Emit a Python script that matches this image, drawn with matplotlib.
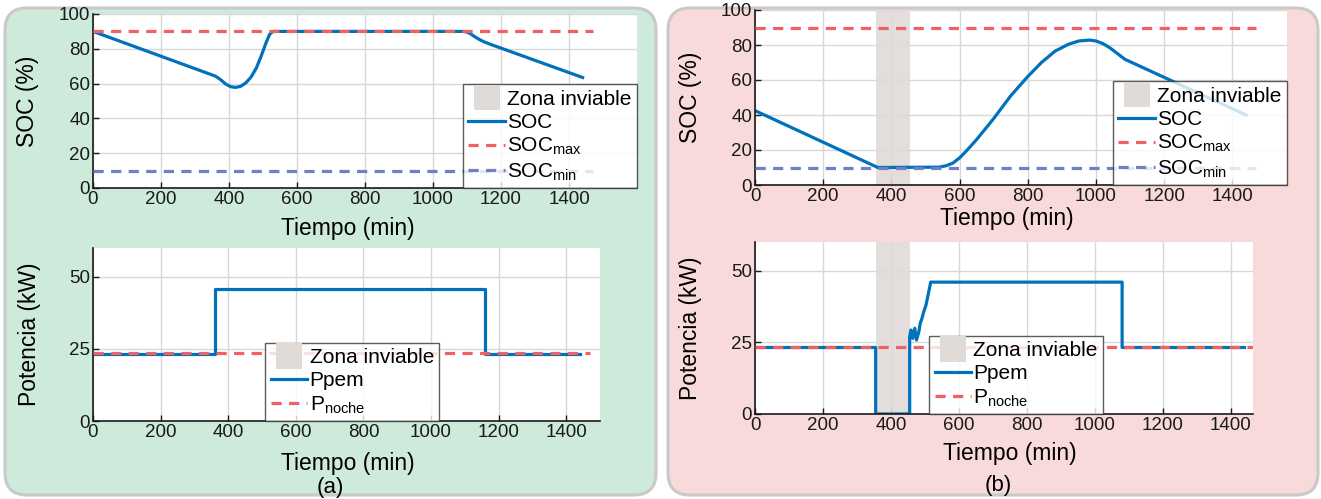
import matplotlib
matplotlib.use('Agg')
import matplotlib.pyplot as plt
from matplotlib.patches import FancyBboxPatch, Patch, Rectangle
from matplotlib.lines import Line2D
from matplotlib.legend_handler import HandlerPatch

plt.rcParams['font.family'] = ['Liberation Sans', 'DejaVu Sans']
plt.rcParams['mathtext.fontset'] = 'custom'
plt.rcParams['mathtext.rm'] = 'Liberation Sans'
plt.rcParams['mathtext.it'] = 'Liberation Sans'
plt.rcParams['mathtext.bf'] = 'Liberation Sans'

# ---------------- data ----------------
ref_t = [0, 1470]
soc_max = [90, 90]
soc_min = [10, 10]
p_noche = [23.5, 23.5]

t_soc_a = [0, 360, 375, 390, 405, 420, 435, 450, 465, 480, 495, 510, 520, 530,
           1090, 1100, 1110, 1120, 1135, 1150, 1170, 1440]
soc_a = [90, 64.3, 62.3, 59.8, 58.2, 57.8, 58.5, 60.5, 63.8, 68.8, 76, 84, 88.5, 90,
         90, 89.6, 88.7, 87.3, 85.5, 84, 82.5, 63.5]

t_p_a = [0, 360, 1160, 1440]
p_a = [23.2, 45.7, 23.2, 23.2]

t_soc_b = [0, 360, 540, 560, 580, 600, 620, 650, 700, 750, 800, 840, 880, 920, 950,
           980, 1000, 1020, 1040, 1060, 1085, 1440]
soc_b = [42.5, 10, 10.2, 11, 12.5, 15.5, 19.5, 26, 38, 51, 62, 70, 76.5, 80.5, 82.3,
         82.8, 82.3, 80.8, 78.5, 75.5, 71.8, 40]

t_p_b = [0, 355, 355, 455, 455, 459, 464, 470, 475, 482, 486, 491, 496, 503, 510, 517,
         1080, 1080, 1440]
p_b = [23.2, 23.2, 0, 0, 27, 29.3, 26.4, 29.9, 25.8, 28.7, 31.6, 33.3, 35.5, 38, 42, 46,
       46, 23.2, 23.2]

zona_b = (355, 455)

xticks = [0, 200, 400, 600, 800, 1000, 1200, 1400]
soc_ticks = [0, 20, 40, 60, 80, 100]
p_ticks = [0, 25, 50]

# ---------------- style ----------------
C_SOC = '#0072BD'
C_MAX = '#F06262'
C_MIN = '#7080C2'
C_ZONE = '#E0DBD7'
GREEN = '#CDEADB'
PINK = '#F9DADB'
BORDER = '#C9C9C9'
LW = 2.3
DASH = (3.2, 2.3)
FS_TICK = 13.5
FS_LAB = 16.5
FS_LEG = 15

W, H = 1321, 499
fig = plt.figure(figsize=(W / 100, H / 100), dpi=100)

bg = fig.add_axes([0, 0, 1, 1], zorder=-5)
bg.set_xlim(0, W)
bg.set_ylim(H, 0)
bg.axis('off')
for x0, w, col in [(5, 651, GREEN), (668, 650, PINK)]:
    bg.add_patch(FancyBboxPatch((x0, 8), w, 487, boxstyle='round,pad=0,rounding_size=22',
                                facecolor=col, edgecolor=BORDER, linewidth=2.2))


def px_axes(l, r, t, b):
    return fig.add_axes([l / W, (H - b) / H, (r - l) / W, (b - t) / H])


def style(ax, xlim, ylim, yt):
    ax.set_xlim(*xlim)
    ax.set_ylim(*ylim)
    ax.set_xticks(xticks)
    ax.set_yticks(yt)
    ax.grid(True, color='#D8D8D8', linewidth=1.0)
    ax.set_axisbelow(True)
    for s in ['top', 'right']:
        ax.spines[s].set_visible(False)
    for s in ['left', 'bottom']:
        ax.spines[s].set_linewidth(1.2)
        ax.spines[s].set_color('#1a1a1a')
    ax.tick_params(direction='in', length=4, width=1, labelsize=FS_TICK, pad=2,
                   colors='#1a1a1a')
    ax.set_facecolor('white')


def labels(ax, ylab, ycoord, xcoord):
    ax.set_ylabel(ylab, fontsize=FS_LAB, va='center')
    ax.set_xlabel('Tiempo (min)', fontsize=FS_LAB, va='center')
    ax.yaxis.set_label_coords(ycoord, 0.5)
    ax.xaxis.set_label_coords(*xcoord)


def rect_handle(legend, orig_handle, xdescent, ydescent, width, height, fontsize):
    w = width * 0.72
    h = height * 1.75
    return Rectangle((-xdescent + (width - w) / 2, -ydescent + (height - h) / 2), w, h)


def make_legend(ax, labs, loc, anchor):
    handles = [Patch(facecolor=C_ZONE, edgecolor='none'),
               Line2D([], [], color=C_SOC, lw=LW),
               Line2D([], [], color=C_MAX, lw=LW, dashes=DASH)]
    if len(labs) == 4:
        handles.append(Line2D([], [], color=C_MIN, lw=LW, dashes=DASH))
    leg = ax.legend(handles, labs, loc=loc, bbox_to_anchor=anchor, fontsize=FS_LEG,
                    fancybox=False, framealpha=0.8, edgecolor='#333333',
                    handlelength=1.75, handletextpad=0.12, borderpad=0.25,
                    labelspacing=0.2, borderaxespad=0,
                    handler_map={Patch: HandlerPatch(patch_func=rect_handle)})
    leg.get_frame().set_linewidth(1.0)
    leg.set_zorder(10)
    return leg


soc_labels = ['Zona inviable', 'SOC', r'SOC$_{\mathrm{max}}$', r'SOC$_{\mathrm{min}}$']
p_labels = ['Zona inviable', 'Ppem', r'P$_{\mathrm{noche}}$']

# ---- (a) top ----
ax = px_axes(93, 637, 14, 188)
style(ax, (0, 1600), (0, 100), soc_ticks)
ax.plot(ref_t, soc_max, color=C_MAX, lw=LW, dashes=DASH, zorder=3)
ax.plot(ref_t, soc_min, color=C_MIN, lw=LW, dashes=DASH, zorder=3)
ax.plot(t_soc_a, soc_a, color=C_SOC, lw=LW, zorder=2)
labels(ax, 'SOC (%)', -0.12, (0.468, -0.23))
make_legend(ax, soc_labels, 'lower right', (1.0, 0.0))

# ---- (a) bottom ----
ax = px_axes(93, 600, 248, 421)
style(ax, (0, 1500), (0, 60), p_ticks)
ax.plot(t_p_a, p_a, color=C_SOC, lw=LW, drawstyle='steps-post', zorder=2)
ax.plot(ref_t, p_noche, color=C_MAX, lw=LW, dashes=DASH, zorder=3)
labels(ax, 'Potencia (kW)', -0.126, (0.502, -0.243))
make_legend(ax, p_labels, 'lower left', (0.34, 0.0))

# ---- (b) top ----
ax = px_axes(755, 1287, 10, 185)
style(ax, (0, 1560), (0, 100), soc_ticks)
ax.axvspan(*zona_b, color=C_ZONE, alpha=0.9, lw=0, zorder=1)
ax.plot(ref_t, soc_max, color=C_MAX, lw=LW, dashes=DASH, zorder=3)
ax.plot(ref_t, soc_min, color=C_MIN, lw=LW, dashes=DASH, zorder=3)
ax.plot(t_soc_b, soc_b, color=C_SOC, lw=LW, zorder=2)
labels(ax, 'SOC (%)', -0.122, (0.474, -0.194))
make_legend(ax, soc_labels, 'lower right', (1.0, 0.0))

# ---- (b) bottom ----
ax = px_axes(755, 1253, 242, 414)
style(ax, (0, 1465), (0, 60), p_ticks)
ax.axvspan(*zona_b, color=C_ZONE, alpha=0.9, lw=0, zorder=1)
ax.plot(t_p_b, p_b, color=C_SOC, lw=LW, zorder=2)
ax.plot(ref_t, p_noche, color=C_MAX, lw=LW, dashes=DASH, zorder=3)
labels(ax, 'Potencia (kW)', -0.13, (0.512, -0.227))
make_legend(ax, p_labels, 'lower left', (0.35, 0.0))

fig.text(330 / W, 1 - 488 / H, '(a)', ha='center', va='center', fontsize=16)
fig.text(998 / W, 1 - 486 / H, '(b)', ha='center', va='center', fontsize=16)

fig.savefig('out.png', dpi=100)
